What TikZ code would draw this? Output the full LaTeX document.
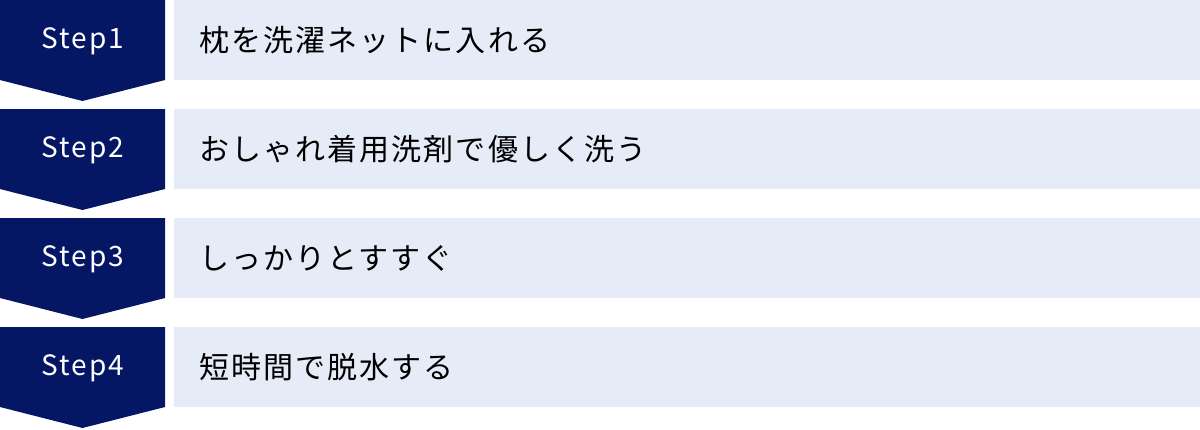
\documentclass[tikz,border=0pt]{standalone}
\usepackage{fontspec}
\newfontfamily\jpfont{Noto Sans CJK JP}[LetterSpace=7]
\newfontfamily\stepfont{Noto Sans CJK JP}[LetterSpace=7]
\definecolor{stepnavy}{RGB}{5,23,100}
\definecolor{stepbg}{RGB}{230,235,248}
\begin{document}
\begin{tikzpicture}[
        x = 1pt,
        y = -1pt,
        badge/.style = {fill=stepnavy},
        bar/.style = {fill=stepbg},
        steplabel/.style = {text=white, inner sep=0pt, font=\stepfont\fontsize{28}{28}\selectfont},
        steptext/.style = {anchor=west, inner sep=0pt, font=\jpfont\fontsize{30}{30}\selectfont}
    ]
        \useasboundingbox (0,0) rectangle (1200,429);
        \begin{scope}[shift={(0,0)}]
            \fill[badge] (0,0)--(165,0)--(165,80)--(82.5,101)--(0,80)--cycle;
            \fill[bar] (174,0) rectangle (1200,80);
            \node[steplabel] (s1) at (83,41) {Step1};
            \node[steptext] (t1) at (199,40) {枕を洗濯ネットに入れる};
        \end{scope}
        \begin{scope}[shift={(0,109)}]
            \fill[badge] (0,0)--(165,0)--(165,80)--(82.5,101)--(0,80)--cycle;
            \fill[bar] (174,0) rectangle (1200,80);
            \node[steplabel] (s2) at (83,41) {Step2};
            \node[steptext] (t2) at (199,40) {おしゃれ着用洗剤で優しく洗う};
        \end{scope}
        \begin{scope}[shift={(0,218)}]
            \fill[badge] (0,0)--(165,0)--(165,80)--(82.5,101)--(0,80)--cycle;
            \fill[bar] (174,0) rectangle (1200,80);
            \node[steplabel] (s3) at (83,41) {Step3};
            \node[steptext] (t3) at (199,40) {しっかりとすすぐ};
        \end{scope}
        \begin{scope}[shift={(0,327)}]
            \fill[badge] (0,0)--(165,0)--(165,80)--(82.5,101)--(0,80)--cycle;
            \fill[bar] (174,0) rectangle (1200,80);
            \node[steplabel] (s4) at (83,41) {Step4};
            \node[steptext] (t4) at (199,40) {短時間で脱水する};
        \end{scope}
    \end{tikzpicture}
\end{document}
